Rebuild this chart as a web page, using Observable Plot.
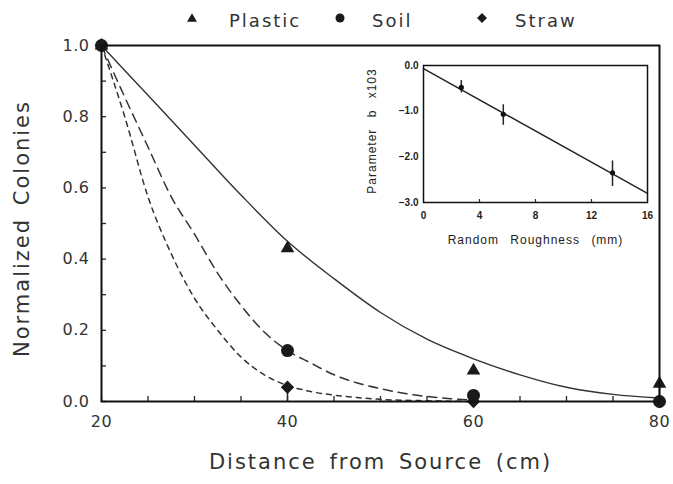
<!DOCTYPE html>
<html><head><meta charset="utf-8">
<script src="https://cdn.jsdelivr.net/npm/d3@7"></script>
<script src="https://cdn.jsdelivr.net/npm/@observablehq/plot@0.6"></script>
<style>
body{margin:0;background:#fff;}
#wrap{position:relative;width:673px;height:484px;font-family:"DejaVu Sans",sans-serif;color:#333;overflow:hidden;}
#main{position:absolute;left:0;top:0;}
#inset{position:absolute;left:360px;top:50px;}
#legend{position:absolute;left:0;top:0;}
</style></head><body>
<div id="wrap"><div id="main"></div><div id="inset"></div><div id="legend"></div></div>
<script>
// ---- main chart data ----
const distance = [20, 40, 60, 80];
const plastic = [1.0, 0.43, 0.087, 0.05];
const soil = [1.0, 0.143, 0.017, 0.0];
const straw = [1.0, 0.04, 0.0, 0.0];
const plasticErrLow = [0, 0, 0, 0.05];
const soilErrLow = [0, 0, 0.017, 0];
const strawErrLow = [0, 0.04, 0, 0];

const fitPlasticX = [20, 25, 30, 35, 40, 45, 50, 55, 60, 65, 70, 75, 80];
const fitPlastic = [1.00, 0.86, 0.72, 0.58, 0.45, 0.345, 0.25, 0.175, 0.12, 0.075, 0.04, 0.02, 0.01];
const fitSoilX = [20, 22.5, 25, 27.5, 30, 32.5, 35, 37.5, 40, 42.5, 45, 47.5, 50, 52.5, 55, 57.5, 60];
const fitSoil = [1.0, 0.855, 0.715, 0.575, 0.47, 0.36, 0.27, 0.195, 0.143, 0.108, 0.075, 0.052, 0.036, 0.023, 0.014, 0.008, 0.004];
const fitStrawX = [20, 22.5, 25, 27.5, 30, 32.5, 35, 37.5, 40, 42.5, 45, 47.5, 50, 55, 60];
const fitStraw = [1.0, 0.80, 0.575, 0.415, 0.29, 0.20, 0.125, 0.075, 0.045, 0.028, 0.018, 0.011, 0.006, 0.002, 0.0];

const xMajor = [20, 40, 60, 80];
const xMinor = [25, 30, 35, 45, 50, 55, 65, 70, 75];
const yMajor = [0, 0.2, 0.4, 0.6, 0.8, 1.0];
const yMinor = [0.1, 0.3, 0.5, 0.7, 0.9];
const xTitle = "Distance from Source (cm)";
const yTitle = "Normalized Colonies";

const seriesNames = ["Plastic", "Soil", "Straw"];
const seriesSymbols = ["triangle2", "circle", "diamond2"];

// ---- inset data ----
const roughness = [2.7, 5.7, 13.5];
const paramB = [-0.48, -1.07, -2.35];
const paramLo = [-0.60, -1.31, -2.65];
const paramHi = [-0.33, -0.86, -2.09];
const fitRoughX = [0, 16];
const fitParamB = [-0.07, -2.8];
const insetXTicks = [0, 4, 8, 12, 16];
const insetXMinor = [4, 8, 12];
const insetYTicks = [0, -1, -2, -3];
const insetXTitle = "Random Roughness (mm)";
const insetYTitle = "Parameter b x103";

// ---- build main ----
const W = 673, H = 484, mT = 45, mB = 83, mL = 101, mR = 14;
const ph = H - mT - mB, pw = W - mL - mR;
const ink = "#262626";

function pts(vals, errLow) {
  return distance.map((d, i) => ({x: d, y: vals[i], lo: vals[i] - errLow[i]}));
}
const pPlastic = pts(plastic, plasticErrLow);
const pSoil = pts(soil, soilErrLow);
const pStraw = pts(straw, strawErrLow);
const line = (xs, ys) => xs.map((x, i) => ({x, y: ys[i]}));

const main = Plot.plot({
  width: W, height: H, marginTop: mT, marginBottom: mB, marginLeft: mL, marginRight: mR,
  style: {fontFamily: "DejaVu Sans", color: "#333", background: "transparent", overflow: "visible"},
  x: {domain: [20, 80]},
  y: {domain: [0, 1]},
  marks: [
    Plot.axisX({ticks: xMajor, tickSize: 0, tickPadding: 14, fontSize: 16, label: null, tickFormat: d => String(d)}),
    Plot.axisY({ticks: yMajor, tickSize: 0, tickPadding: 12, fontSize: 16, label: null, tickFormat: d3.format(".1f")}),
    Plot.tickX(xMajor.concat(xMinor), {x: d => d, insetTop: ph - 5, stroke: ink, strokeWidth: 1.3}),
    Plot.tickY(yMajor.concat(yMinor), {y: d => d, insetRight: pw - 5, stroke: ink, strokeWidth: 1.3}),
    Plot.line(line(fitPlasticX, fitPlastic), {x: "x", y: "y", curve: "monotone-x", stroke: "#333", strokeWidth: 1.4}),
    Plot.line(line(fitSoilX, fitSoil), {x: "x", y: "y", curve: "monotone-x", stroke: "#333", strokeWidth: 1.5, strokeDasharray: "9,6"}),
    Plot.line(line(fitStrawX, fitStraw), {x: "x", y: "y", curve: "monotone-x", stroke: "#333", strokeWidth: 1.5, strokeDasharray: "5,5"}),
    Plot.ruleX(pStraw.filter(d => d.lo < d.y), {x: "x", y1: "lo", y2: "y", stroke: ink, strokeWidth: 1.5}),
    Plot.ruleX(pSoil.filter(d => d.lo < d.y), {x: "x", y1: "lo", y2: "y", stroke: ink, strokeWidth: 1.5}),
    Plot.ruleX(pPlastic.filter(d => d.lo < d.y), {x: "x", y1: "lo", y2: "y", stroke: ink, strokeWidth: 1.5}),
    Plot.dot(pStraw, {x: "x", y: "y", symbol: () => seriesSymbols[2], r: 6, fill: "#1a1a1a", stroke: "none"}),
    Plot.dot(pSoil, {x: "x", y: "y", symbol: () => seriesSymbols[1], r: 6.5, fill: "#1a1a1a", stroke: "none"}),
    Plot.dot(pPlastic, {x: "x", y: "y", symbol: () => seriesSymbols[0], r: 6.5, fill: "#1a1a1a", stroke: "none"}),
    Plot.frame({stroke: "#111", strokeWidth: 2}),
    Plot.text([xTitle], {text: d => d, frameAnchor: "bottom", textAnchor: "middle", dy: 67, fontSize: 21, fill: "#333"}),
    Plot.text([yTitle], {text: d => d, frameAnchor: "left", textAnchor: "middle", dx: -79, dy: 5, rotate: -90, fontSize: 21, fill: "#333"})
  ]
});
document.getElementById("main").appendChild(main);
const sm = d3.select(main);
sm.selectAll('g[aria-label="text"] text').style("letter-spacing", "2px").style("word-spacing", "4px");
sm.selectAll('g[aria-label="y-axis tick label"] text, g[aria-label="x-axis tick label"] text').style("letter-spacing", "0.5px");

// ---- build inset ----
const iW = 300, iH = 210, imL = 63, imR = 13, imT = 15, imB = 58;
const iph = iH - imT - imB;
const inset = Plot.plot({
  width: iW, height: iH, marginLeft: imL, marginRight: imR, marginTop: imT, marginBottom: imB,
  style: {fontFamily: "Liberation Sans", color: "#222", background: "transparent", overflow: "visible"},
  x: {domain: [0, 16]},
  y: {domain: [-3, 0]},
  marks: [
    Plot.axisX({ticks: insetXTicks, tickSize: 0, tickPadding: 9, fontSize: 10, fontWeight: "bold", label: null, tickFormat: d => String(d)}),
    Plot.axisY({ticks: insetYTicks, tickSize: 0, tickPadding: 5, fontSize: 10, fontWeight: "bold", label: null, tickFormat: d3.format(".1f")}),
    Plot.tickX(insetXMinor, {x: d => d, insetTop: iph - 3, stroke: ink, strokeWidth: 1.2}),
    Plot.line(line(fitRoughX, fitParamB), {x: "x", y: "y", stroke: ink, strokeWidth: 1.5}),
    Plot.ruleX(roughness.map((r, i) => ({x: r, lo: paramLo[i], hi: paramHi[i]})), {x: "x", y1: "lo", y2: "hi", stroke: ink, strokeWidth: 1.5}),
    Plot.dot(roughness.map((r, i) => ({x: r, y: paramB[i]})), {x: "x", y: "y", r: 2.6, fill: "#111", stroke: "none"}),
    Plot.frame({stroke: "#111", strokeWidth: 1.5}),
    Plot.text([insetXTitle], {text: d => d, frameAnchor: "bottom", textAnchor: "middle", dy: 41, fontSize: 12, fill: "#222"}),
    Plot.text([insetYTitle], {text: d => d, frameAnchor: "left", textAnchor: "middle", dx: -51, dy: -3, rotate: -90, fontSize: 12, fill: "#222"})
  ]
});
document.getElementById("inset").appendChild(inset);
const si = d3.select(inset);
si.selectAll('g[aria-label="text"] text').style("letter-spacing", "1px").style("word-spacing", "7px");

// ---- legend (top) ----
const legendSym = [{cx: 192, tx: 229}, {cx: 340, tx: 372}, {cx: 482, tx: 515}];
const lg = d3.select("#legend").append("svg").attr("width", W).attr("height", 40)
  .style("font-family", "DejaVu Sans");
const symFns = {triangle2: d3.symbolTriangle2, circle: d3.symbolCircle, diamond2: d3.symbolDiamond2};
seriesNames.forEach((name, i) => {
  const pos = legendSym[i];
  lg.append("path")
    .attr("d", d3.symbol(symFns[seriesSymbols[i]], i === 0 ? 70 : 64)())
    .attr("transform", `translate(${pos.cx},${i === 0 ? 19 : 18})`)
    .attr("fill", "#1a1a1a");
  lg.append("text").attr("x", pos.tx).attr("y", 27)
    .attr("font-size", 18).attr("fill", "#333").style("letter-spacing", "2px")
    .text(name);
});
</script>
</body></html>
